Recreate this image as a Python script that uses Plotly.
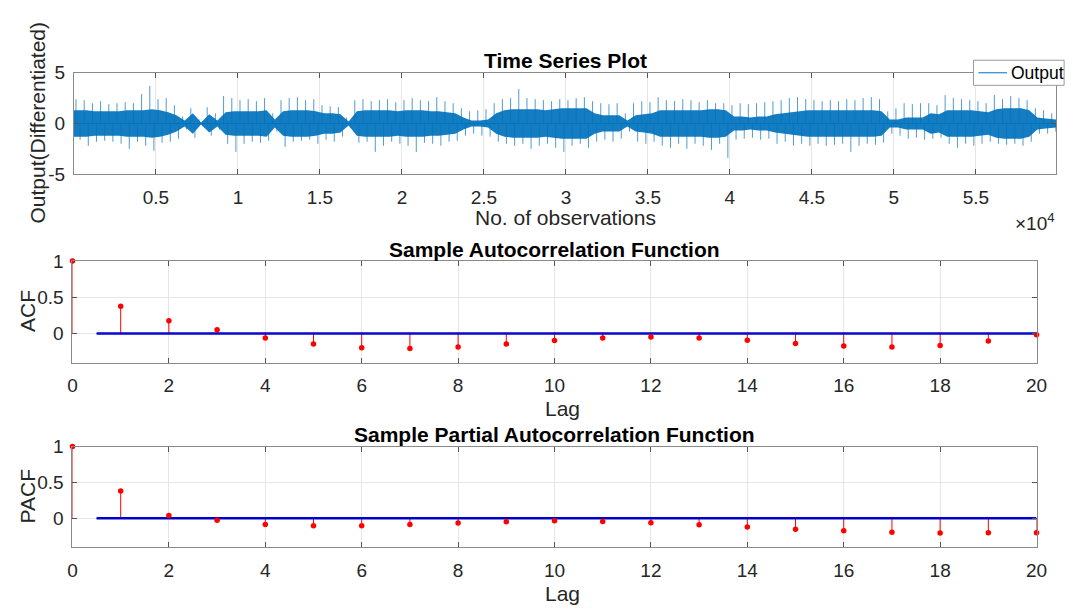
import plotly.graph_objects as go

# ---------------- data ----------------
# Time series (differentiated output), summarised per bin of 500 observations:
# spike maximum, spike minimum and dense-core amplitude
bin_size = 500
n_obs = 59900
ts_hi = [2.4, 2.3, 2.0, 2.2, 1.9, 2.0, 2.1, 2.0, 2.9, 3.7,
         2.4, 2.5, 1.8, 0.7, 1.5, 0.4, 1.6, 1.0, 2.7, 2.5,
         2.3, 2.4, 2.2, 2.5, 1.0, 2.3, 2.5, 2.6, 2.3, 2.4,
         1.8, 1.7, 1.6, 0.6, 2.3, 2.4, 2.2, 2.3, 2.4, 2.1,
         2.3, 2.5, 2.3, 2.2, 2.6, 2.2, 2.0, 1.5, 1.2, 1.3,
         1.4, 2.0, 2.4, 2.5, 3.4, 2.5, 2.4, 2.3, 2.2, 2.4,
         2.3, 2.5, 2.6, 2.2, 2.0, 1.9, 2.0, 1.0, 2.0, 2.2,
         2.1, 2.6, 2.3, 2.2, 2.4, 2.3, 2.1, 2.3, 2.0, 2.0,
         1.8, 2.0, 1.9, 2.0, 2.1, 2.2, 2.3, 2.5, 2.6, 2.4,
         2.3, 2.2, 2.3, 2.2, 2.4, 2.3, 2.5, 2.6, 2.4, 1.2,
         1.5, 2.0, 1.9, 2.0, 2.0, 1.8, 2.8, 2.5, 2.4, 2.3,
         2.2, 2.0, 2.8, 2.4, 2.7, 2.5, 2.3, 1.5, 1.3, 1.0]
ts_lo = [-1.6, -2.2, -1.8, -1.7, -1.8, -2.0, -2.5, -1.8, -2.2, -2.7,
         -1.9, -1.8, -1.5, -0.6, -1.4, -0.3, -1.2, -0.6, -2.0, -2.8,
         -2.0, -1.8, -1.9, -1.7, -0.8, -2.3, -1.8, -1.7, -1.6, -2.0,
         -1.6, -1.8, -1.3, -0.4, -1.9, -1.8, -2.8, -2.2, -1.8, -2.0,
         -2.2, -2.8, -1.9, -2.0, -2.2, -1.8, -1.7, -1.2, -1.0, -1.2,
         -1.3, -1.8, -2.0, -2.2, -2.0, -2.5, -2.2, -2.0, -2.4, -2.8,
         -2.2, -2.0, -2.4, -1.8, -1.6, -1.8, -1.5, -0.8, -1.8, -2.0,
         -1.8, -2.2, -2.4, -2.0, -2.5, -2.0, -2.2, -2.6, -2.0, -3.4,
         -1.6, -1.5, -1.4, -1.6, -1.5, -2.0, -1.8, -2.2, -2.0, -2.2,
         -2.0, -2.2, -2.1, -2.0, -2.8, -2.2, -2.0, -2.1, -1.9, -1.0,
         -1.2, -1.5, -1.4, -1.6, -1.5, -1.4, -2.0, -2.4, -2.0, -2.2,
         -2.0, -1.8, -2.0, -2.1, -2.0, -2.2, -1.8, -1.0, -1.0, -0.8]
ts_core = [1.3, 1.3, 1.2, 1.2, 1.2, 1.2, 1.3, 1.3, 1.3, 1.4,
           1.3, 1.1, 0.8, 0.3, 1.0, 0.1, 0.9, 0.3, 1.1, 1.2,
           1.2, 1.2, 1.2, 1.3, 0.4, 1.2, 1.3, 1.3, 1.3, 1.2,
           1.0, 1.0, 0.9, 0.2, 1.2, 1.3, 1.3, 1.3, 1.3, 1.2,
           1.3, 1.3, 1.3, 1.2, 1.2, 1.1, 1.0, 0.6, 0.3, 0.3,
           0.4, 1.0, 1.3, 1.4, 1.4, 1.4, 1.4, 1.3, 1.4, 1.5,
           1.5, 1.5, 1.5, 1.0, 0.8, 0.8, 0.8, 0.3, 0.8, 0.9,
           1.0, 1.3, 1.3, 1.3, 1.3, 1.3, 1.3, 1.4, 1.4, 1.3,
           0.7, 0.7, 0.6, 0.7, 0.7, 0.9, 1.0, 1.1, 1.2, 1.3,
           1.3, 1.3, 1.3, 1.3, 1.3, 1.3, 1.3, 1.3, 1.2, 0.4,
           0.4, 0.6, 0.6, 0.6, 1.0, 0.9, 1.3, 1.3, 1.3, 1.3,
           1.2, 1.1, 1.4, 1.5, 1.5, 1.5, 1.3, 0.6, 0.5, 0.4]
ts_tickvals = [5000, 10000, 15000, 20000, 25000, 30000, 35000, 40000, 45000, 50000, 55000]
ts_ticktext = ["0.5", "1", "1.5", "2", "2.5", "3", "3.5", "4", "4.5", "5", "5.5"]
ts_yticks = [-5, 0, 5]
ts_yticktext = ["-5", "0", "5"]

lags = list(range(21))
acf = [1.0, 0.376, 0.177, 0.053, -0.062, -0.146, -0.195, -0.208, -0.186, -0.146,
       -0.097, -0.062, -0.049, -0.062, -0.093, -0.137, -0.173, -0.186, -0.164, -0.102, -0.018]
pacf = [1.0, 0.381, 0.040, -0.027, -0.085, -0.103, -0.103, -0.085, -0.067, -0.049,
        -0.036, -0.045, -0.063, -0.090, -0.121, -0.152, -0.175, -0.193, -0.206, -0.202, -0.202]
bound_lags = [0.5, 20]
conf_bound = 0.008
lag_ticks = [0, 2, 4, 6, 8, 10, 12, 14, 16, 18, 20]
cf_yticks = [0, 0.5, 1]

# ---------------- figure ----------------
W, H = 1083, 614
BLUE = "#0072BD"
FONT = "Arial, Liberation Sans, Helvetica, sans-serif"
TXT = "#262626"


def px(x):
    return x / W


def py(y):
    return 1 - y / H


fig = go.Figure()

# time series: dense core band
centers = [min(bin_size * (i + 0.5), n_obs) for i in range(len(ts_core))]
xs_core = [1] + centers + [n_obs]
core_up = [ts_core[0]] + ts_core + [ts_core[-1]]
core_dn = [-v for v in core_up]
for yy in (core_up, core_dn):
    fig.add_trace(go.Scatter(x=xs_core, y=yy, mode="lines", line=dict(width=0, color=BLUE),
                             fill="tozeroy", fillcolor="rgba(0,114,189,0.92)", hoverinfo="skip",
                             showlegend=False, xaxis="x", yaxis="y"))
# time series: spikes up to each bin's maximum and down to its minimum
sx, sy = [], []
for i, (hi, lo) in enumerate(zip(ts_hi, ts_lo)):
    xu = min(bin_size * i + bin_size * 0.25, n_obs)
    xd = min(bin_size * i + bin_size * 0.75, n_obs)
    sx += [xu, xu, None, xd, xd, None]
    sy += [0, hi, None, 0, lo, None]
fig.add_trace(go.Scatter(x=sx, y=sy, mode="lines", line=dict(width=1, color="rgba(0,114,189,0.7)"),
                         name="Output", showlegend=False, xaxis="x", yaxis="y"))
fig.add_trace(go.Scatter(x=[1, n_obs], y=[0, 0], mode="lines", line=dict(width=1.2, color=BLUE),
                         hoverinfo="skip", showlegend=False, xaxis="x", yaxis="y"))


def stem_traces(vals, xa, ya):
    lx, ly = [], []
    for l, v in zip(lags, vals):
        lx += [l, l, None]
        ly += [0, v, None]
    fig.add_trace(go.Scatter(x=lx, y=ly, mode="lines", line=dict(width=1, color="#FF0000"),
                             showlegend=False, xaxis=xa, yaxis=ya, cliponaxis=False))
    for b in (conf_bound, -conf_bound):
        fig.add_trace(go.Scatter(x=bound_lags, y=[b, b], mode="lines", line=dict(width=1.5, color="#0000CC"),
                                 showlegend=False, xaxis=xa, yaxis=ya))
    fig.add_trace(go.Scatter(x=lags, y=vals, mode="markers",
                             marker=dict(size=5.5, color="#FF0000", line=dict(width=0)),
                             showlegend=False, xaxis=xa, yaxis=ya, cliponaxis=False))


stem_traces(acf, "x2", "y2")
stem_traces(pacf, "x3", "y3")

axis_common = dict(
    ticks="inside", ticklen=5, tickcolor="#555555", tickwidth=1,
    showgrid=True, gridcolor="#e6e6e6", gridwidth=1,
    showline=True, linecolor="#8a8a8a", linewidth=1, mirror="ticks",
    zeroline=False, tickfont=dict(family=FONT, size=19, color=TXT),
)

fig.update_layout(
    width=W, height=H, margin=dict(l=0, r=0, t=0, b=0),
    paper_bgcolor="white", plot_bgcolor="white",
    showlegend=False,
    xaxis=dict(domain=[px(70), px(1067)], range=[1, n_obs], tickvals=ts_tickvals, ticktext=ts_ticktext,
               anchor="y", ticklabelstandoff=6, **axis_common),
    yaxis=dict(domain=[py(170), py(65)], range=[-5, 5], tickvals=ts_yticks, ticktext=ts_yticktext,
               anchor="x", ticklabelstandoff=4, **axis_common),
    xaxis2=dict(domain=[px(68.5), px(1047)], range=[0, 20], tickvals=lag_ticks, anchor="y2",
                ticklabelstandoff=6, **axis_common),
    yaxis2=dict(domain=[py(365), py(260)], range=[-0.4, 1], tickvals=cf_yticks, anchor="x2",
                ticklabelstandoff=4, **axis_common),
    xaxis3=dict(domain=[px(68.5), px(1047)], range=[0, 20], tickvals=lag_ticks, anchor="y3",
                ticklabelstandoff=6, **axis_common),
    yaxis3=dict(domain=[py(556), py(452)], range=[-0.4, 1], tickvals=cf_yticks, anchor="x3",
                ticklabelstandoff=4, **axis_common),
)


def label(text, x, y, size, angle=0, xanchor="center", bold=False):
    fig.add_annotation(text=f"<b>{text}</b>" if bold else text, x=px(x), y=py(y), xref="paper", yref="paper",
                       showarrow=False, textangle=angle, xanchor=xanchor, yanchor="middle",
                       font=dict(family=FONT, size=size, color="#000000" if bold else TXT))


label("Time Series Plot", 568.5, 52, 21, bold=True)
label("No. of observations", 569, 215, 21)
label("×10<sup>4</sup>", 1068, 219, 19, xanchor="right")
label("Output(Differentiated)", 33, 117, 21, angle=-90)
label("Sample Autocorrelation Function", 558, 248, 21, bold=True)
label("ACF", 23, 312, 21, angle=-90)
label("Lag", 566, 413, 21)
label("Sample Partial Autocorrelation Function", 558, 440, 21, bold=True)
label("PACF", 23, 504, 21, angle=-90)
label("Lag", 566, 604, 21)

# legend box (drawn like MATLAB's)
fig.add_shape(type="rect", xref="paper", yref="paper", x0=px(983), x1=px(1075), y0=py(78), y1=py(52),
              line=dict(color="#9a9a9a", width=1), fillcolor="white", layer="above")
fig.add_shape(type="line", xref="paper", yref="paper", x0=px(988), x1=px(1017), y0=py(65), y1=py(65),
              line=dict(color=BLUE, width=1), layer="above")
fig.add_annotation(text="Output", x=px(1019), y=py(65), xref="paper", yref="paper", showarrow=False,
                   xanchor="left", yanchor="middle", font=dict(family=FONT, size=17.5, color="#000000"))

fig.write_html("out.html")
